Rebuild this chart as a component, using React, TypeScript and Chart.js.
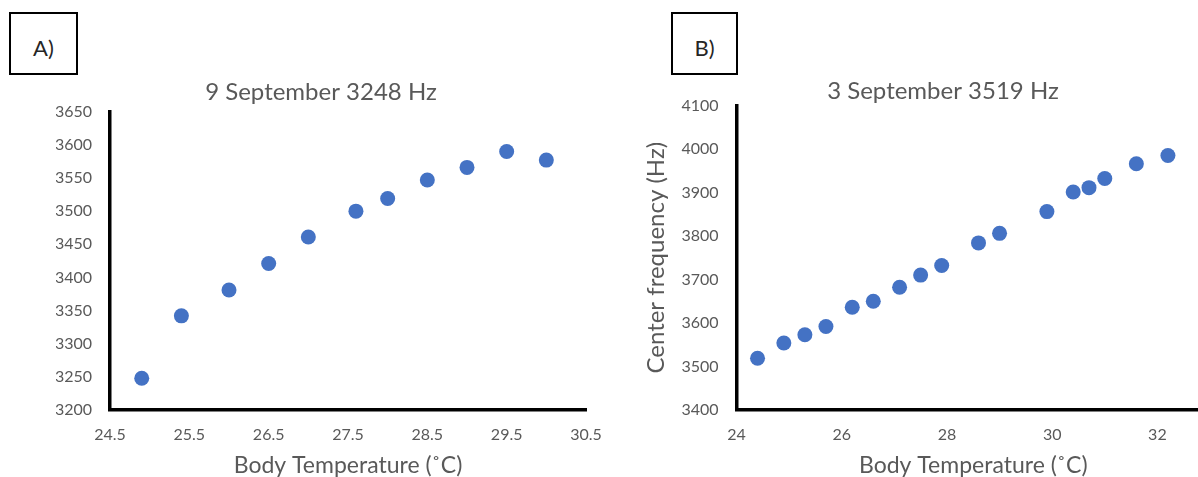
import { useEffect, useRef } from "react";
import { Chart, registerables } from "chart.js";

Chart.register(...registerables);

// Panel A: 9 September recording
const tempA = [24.9, 25.4, 26.0, 26.5, 27.0, 27.6, 28.0, 28.5, 29.0, 29.5, 30.0];
const freqA = [3248, 3342, 3381, 3421, 3461, 3500, 3519, 3547, 3566, 3590, 3577];
const xTicksA = [24.5, 25.5, 26.5, 27.5, 28.5, 29.5, 30.5];
const yTicksA = [3200, 3250, 3300, 3350, 3400, 3450, 3500, 3550, 3600, 3650];

// Panel B: 3 September recording
const tempB = [24.4, 24.9, 25.3, 25.7, 26.2, 26.6, 27.1, 27.5, 27.9, 28.6, 29.0, 29.9, 30.4, 30.7, 31.0, 31.6, 32.2];
const freqB = [3519, 3554, 3573, 3592, 3636, 3650, 3682, 3710, 3732, 3784, 3806, 3856, 3901, 3911, 3932, 3966, 3985];
const xTicksB = [24, 26, 28, 30, 32];
const yTicksB = [3400, 3500, 3600, 3700, 3800, 3900, 4000, 4100];

const TEXT = "#595959";
const MARKER = "#4472C4";
const FONT = "Lato, 'Open Sans', sans-serif";

type PanelSpec = {
  title: string;
  xs: number[];
  ys: number[];
  xTicks: number[];
  yTicks: number[];
  xMin: number;
  xMax: number;
  yMin: number;
  yMax: number;
  padLeft: number;
  padRight: number;
  yAxisWidth: number;
  yLabelPad: number;
  titlePadTop: number;
  titlePadBottom: number;
  yTitle?: string;
  yTitlePad?: number;
};

function buildConfig(p: PanelSpec): any {
  const points = p.xs.map((x, i) => ({ x, y: p.ys[i] }));
  return {
    type: "scatter",
    data: {
      datasets: [
        {
          data: points,
          backgroundColor: MARKER,
          borderWidth: 0,
          pointRadius: 7.5,
          pointHoverRadius: 7.5,
        },
      ],
    },
    options: {
      responsive: false,
      animation: false,
      layout: { padding: { left: p.padLeft, right: p.padRight, top: 0, bottom: 0 } },
      plugins: {
        legend: { display: false },
        tooltip: { enabled: false },
        title: {
          display: true,
          text: p.title,
          color: TEXT,
          font: { family: FONT, size: 24, weight: "normal", lineHeight: 1.2 },
          padding: { top: p.titlePadTop, bottom: p.titlePadBottom },
        },
      },
      scales: {
        x: {
          type: "linear",
          min: p.xMin,
          max: p.xMax,
          grid: { display: false, drawTicks: false },
          border: { display: true, color: "#000", width: 3.5 },
          afterBuildTicks: (scale: any) => {
            scale.ticks = p.xTicks.map((value) => ({ value }));
          },
          afterFit: (scale: any) => {
            scale.height = 67;
          },
          ticks: {
            color: TEXT,
            font: { family: FONT, size: 16, lineHeight: 1.2 },
            padding: 15,
            maxRotation: 0,
            autoSkip: false,
            callback: (v: number) => String(v),
          },
          title: {
            display: true,
            text: "Body Temperature (˚C)",
            color: TEXT,
            font: { family: FONT, size: 23, lineHeight: 1 },
            padding: { top: 0, bottom: 0 },
          },
        },
        y: {
          type: "linear",
          min: p.yMin,
          max: p.yMax,
          grid: { display: false, drawTicks: false },
          border: { display: true, color: "#000", width: 3.5 },
          afterBuildTicks: (scale: any) => {
            scale.ticks = p.yTicks.map((value) => ({ value }));
          },
          afterFit: (scale: any) => {
            scale.width = p.yAxisWidth;
          },
          ticks: {
            color: TEXT,
            font: { family: FONT, size: 16, lineHeight: 1.2 },
            padding: p.yLabelPad,
            autoSkip: false,
            callback: (v: number) => String(v),
          },
          title: {
            display: !!p.yTitle,
            text: p.yTitle || "",
            color: TEXT,
            font: { family: FONT, size: 24, lineHeight: 1 },
            padding: { top: p.yTitlePad || 0, bottom: 0 },
          },
        },
      },
    },
  };
}

const panelA: PanelSpec = {
  title: "9 September 3248 Hz",
  xs: tempA,
  ys: freqA,
  xTicks: xTicksA,
  yTicks: yTicksA,
  xMin: 24.5,
  xMax: 30.5,
  yMin: 3200,
  yMax: 3650,
  padLeft: 56,
  padRight: 54,
  yAxisWidth: 54,
  yLabelPad: 18,
  titlePadTop: 77.6,
  titlePadBottom: 5.3,
};

const panelB: PanelSpec = {
  title: "3 September 3519 Hz",
  xs: tempB,
  ys: freqB,
  xTicks: xTicksB,
  yTicks: yTicksB,
  xMin: 24,
  xMax: 33,
  yMin: 3400,
  yMax: 4100,
  padLeft: 76,
  padRight: 30,
  yAxisWidth: 60.5,
  yLabelPad: 18,
  titlePadTop: 76.6,
  titlePadBottom: 0,
  yTitle: "Center frequency (Hz)",
  yTitlePad: -31.6,
};

const boxStyle = (left: number, width: number, height: number): any => ({
  position: "absolute",
  left,
  top: 12,
  width,
  height,
  boxSizing: "border-box",
  border: "2px solid #000",
  background: "#fff",
  display: "flex",
  alignItems: "center",
  justifyContent: "center",
  paddingTop: 9,
  fontFamily: FONT,
  fontWeight: 400,
  fontSize: 22,
  lineHeight: 1,
  color: "#262626",
});

export default function App() {
  const refA = useRef<HTMLCanvasElement | null>(null);
  const refB = useRef<HTMLCanvasElement | null>(null);

  useEffect(() => {
    const a = new Chart(refA.current as HTMLCanvasElement, buildConfig(panelA));
    const b = new Chart(refB.current as HTMLCanvasElement, buildConfig(panelB));
    return () => {
      a.destroy();
      b.destroy();
    };
  }, []);

  return (
    <div
      style={{
        position: "absolute",
        left: 0,
        top: 0,
        width: 1198,
        height: 477,
        overflow: "hidden",
        background: "#fff",
      }}
    >
      <canvas ref={refA} width={640} height={477} style={{ position: "absolute", left: 0, top: 0 }} />
      <canvas ref={refB} width={640} height={477} style={{ position: "absolute", left: 600, top: 0 }} />
      <div style={boxStyle(9, 69, 63)}>A)</div>
      <div style={boxStyle(671, 67, 63)}>B)</div>
    </div>
  );
}
